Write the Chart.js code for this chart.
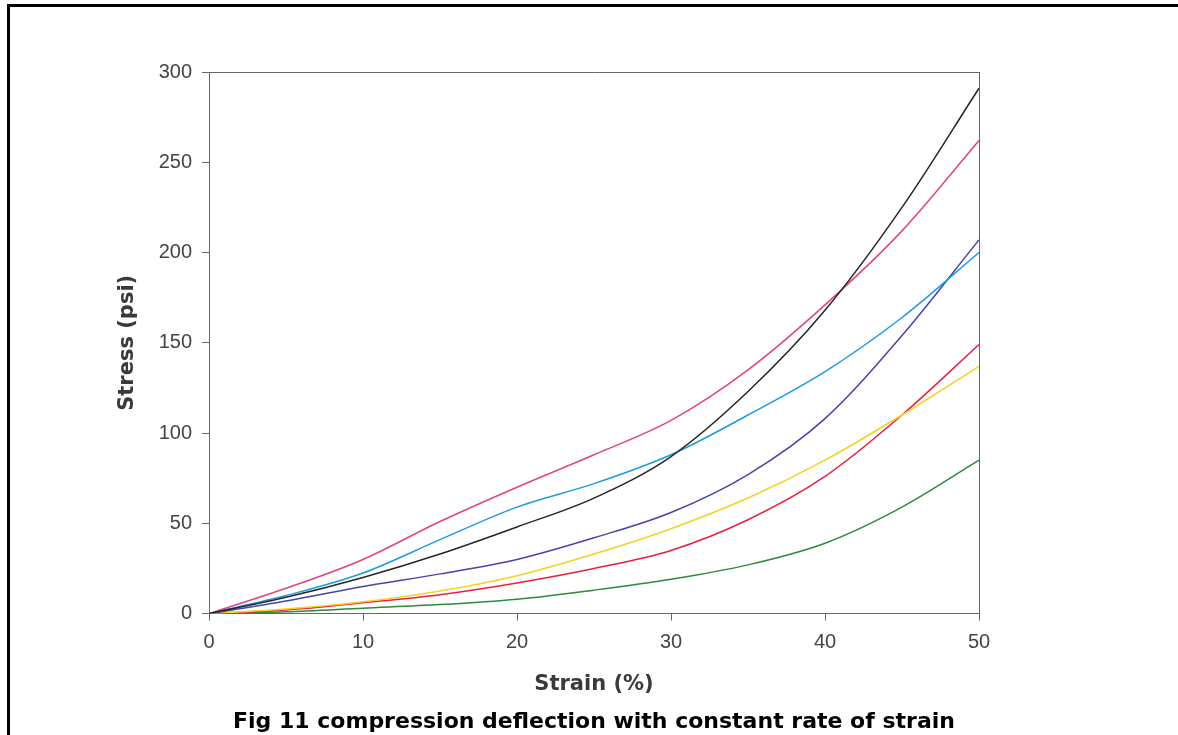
<!DOCTYPE html>
<html>
<head>
<meta charset="utf-8">
<script src="https://cdn.jsdelivr.net/npm/chart.js@4/dist/chart.umd.min.js"></script>
<style>
  body { margin: 0; background: #fff; }
  #frame { position: absolute; left: 7px; top: 4px; width: 1250px; height: 800px; border: 3px solid #000; }
  #stressChart { position: absolute; left: 0; top: 0; }
</style>
</head>
<body>
<div id="frame"></div>
<canvas id="stressChart" width="1178" height="735"></canvas>
<script>
// Strain (%) sample positions
const strain = [0, 5, 10, 15, 20, 25, 30, 35, 40, 45, 50];

// Stress (psi)
const blackCurve = [0, 9, 20, 33, 48, 64, 87, 123, 168, 225, 291];
const pinkCurve = [0, 14, 30, 51, 70, 88, 107, 135, 171, 212, 262];
const cyanCurve = [0, 10, 22.5, 41, 59, 72, 88, 110, 134, 164, 200];
const navyCurve = [0, 7, 15, 22, 30, 42, 56, 77, 108, 154, 207];
const yellowCurve = [0, 2.5, 6.5, 12.5, 21, 33, 47, 64, 85, 110, 137];
const redCurve = [0, 2, 6, 10.5, 17, 25, 35, 52, 76, 110, 149];
const greenCurve = [0, 1, 3, 5, 8, 13, 19, 27, 39, 59, 85];

const curves = [
  { values: blackCurve, color: "#262626" },
  { values: pinkCurve, color: "#e0467c" },
  { values: cyanCurve, color: "#1e9be0" },
  { values: navyCurve, color: "#4545a8" },
  { values: yellowCurve, color: "#f2d226" },
  { values: redCurve, color: "#e8203e" },
  { values: greenCurve, color: "#2e8a3e" },
];

const axisColor = "#666";
const tickFont = { family: "Liberation Sans, Arial, sans-serif", size: 20 };
const titleFont = { family: "DejaVu Sans, sans-serif", size: 21, weight: "bold" };

// frame line only (used for top and right edges of the plot box)
function frameAxis(position) {
  return {
    type: "linear",
    position: position,
    min: 0,
    max: position === "top" ? 50 : 300,
    ticks: { display: false },
    grid: { display: false, drawTicks: false },
    border: { color: axisColor, width: 1 },
    afterFit: (scale) => {
      if (position === "top") scale.height = 0;
      else scale.width = 0;
    },
  };
}

const ctx = document.getElementById("stressChart").getContext("2d");

new Chart(ctx, {
  type: "line",
  data: {
    datasets: curves.map((c) => ({
      data: strain.map((s, i) => ({ x: s, y: c.values[i] })),
      borderColor: c.color,
      borderWidth: 1.5,
      pointRadius: 0,
      fill: false,
      cubicInterpolationMode: "monotone",
    })),
  },
  options: {
    responsive: false,
    animation: false,
    devicePixelRatio: 1,
    layout: { padding: { left: 0, top: 72, right: 199, bottom: 0 } },
    plugins: {
      legend: { display: false },
      tooltip: { enabled: false },
      title: {
        display: true,
        position: "bottom",
        fullSize: false,
        text: "Fig 11 compression deflection with constant rate of strain",
        color: "#000",
        font: { family: "DejaVu Sans, sans-serif", size: 22, weight: "bold" },
        padding: 0,
      },
    },
    scales: {
      x: {
        type: "linear",
        position: "bottom",
        min: 0,
        max: 50,
        ticks: { stepSize: 10, color: "#444", font: tickFont, padding: 10, maxRotation: 0 },
        grid: { drawOnChartArea: false, tickLength: 7, color: axisColor },
        border: { color: axisColor, width: 1 },
        title: { display: true, text: "Strain (%)", color: "#3a3a3a", font: titleFont, padding: { top: 0, bottom: 11 } },
        afterFit: (scale) => { scale.height = 95; },
      },
      y: {
        type: "linear",
        position: "left",
        min: 0,
        max: 300,
        ticks: { stepSize: 50, color: "#444", font: tickFont, padding: 10 },
        grid: { drawOnChartArea: false, tickLength: 7, color: axisColor },
        border: { color: axisColor, width: 1 },
        title: { display: true, text: "Stress (psi)", color: "#3a3a3a", font: titleFont, padding: { top: 115, bottom: 0 } },
        afterFit: (scale) => { scale.width = 209; },
      },
      xTop: frameAxis("top"),
      yRight: frameAxis("right"),
    },
  },
});
</script>
</body>
</html>
